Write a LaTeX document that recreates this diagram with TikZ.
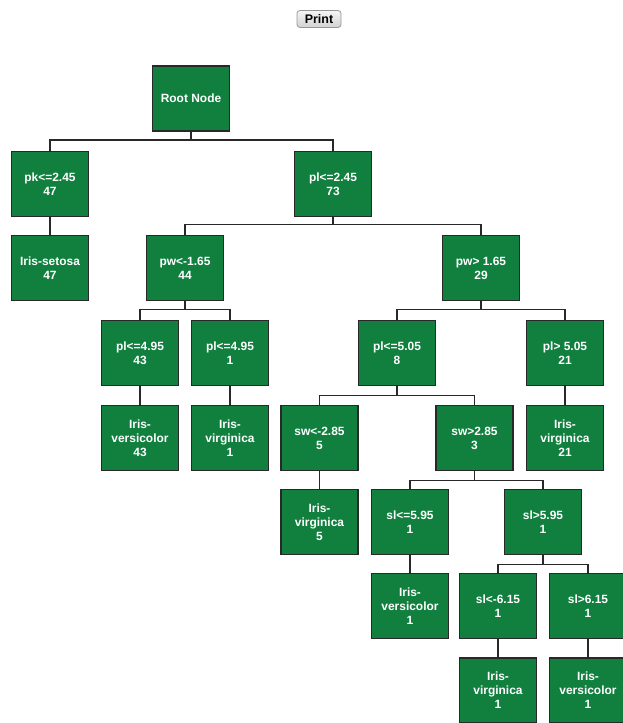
\documentclass[tikz,border=0pt]{standalone}
\usepackage{fontspec}
\setmainfont{Liberation Sans}
\begin{document}
\begin{tikzpicture}[x=1bp,y=-1bp,
  tbox/.style={rectangle, draw=boxline, line width=1.5bp, fill=treegreen,
    minimum width=77bp, minimum height=65bp, inner sep=1bp, align=center,
    text=white, font=\fontsize{12}{14}\selectfont\bfseries},
  conn/.style={draw=connline, line width=1.5bp},
  btn/.style={rectangle, rounded corners=3bp, draw=btnline, line width=0.8bp,
    top color=btntop, bottom color=btnbot, minimum width=44bp, minimum height=17bp,
    inner sep=0pt, font=\fontsize{12.5}{14}\selectfont\bfseries}]
\definecolor{treegreen}{RGB}{17,128,63}
\definecolor{boxline}{RGB}{40,40,40}
\definecolor{connline}{RGB}{40,40,40}
\definecolor{btnline}{RGB}{150,150,150}
\definecolor{btntop}{RGB}{245,245,245}
\definecolor{btnbot}{RGB}{210,210,210}
\useasboundingbox (0,0) rectangle (623,723);
\clip (0,0) rectangle (623,723);

\node[btn] (print) at (319,19) {Print};

\node[tbox] (root) at (191,98.5) {Root Node};
% level 1
\node[tbox] (pk) at (50,184) {pk<=2.45\\47};
\node[tbox] (plA) at (333,184) {pl<=2.45\\73};
% level 2
\node[tbox] (setosa) at (50,268) {Iris-setosa\\47};
\node[tbox] (pwA) at (185,268) {pw<-1.65\\44};
\node[tbox] (pwB) at (481,268) {pw> 1.65\\29};
% level 3
\node[tbox] (plC) at (140,353) {pl<=4.95\\43};
\node[tbox] (plD) at (230,353) {pl<=4.95\\1};
\node[tbox] (plE) at (397,353) {pl<=5.05\\8};
\node[tbox] (plF) at (565,353) {pl> 5.05\\21};
% level 4
\node[tbox] (vers43) at (140,438) {Iris-\\versicolor\\43};
\node[tbox] (virg1) at (230,438) {Iris-\\virginica\\1};
\node[tbox] (swA) at (319.5,438) {sw<-2.85\\5};
\node[tbox] (swB) at (474.5,438) {sw>2.85\\3};
\node[tbox] (virg21) at (565,438) {Iris-\\virginica\\21};
% level 5
\node[tbox] (virg5) at (319.5,522) {Iris-\\virginica\\5};
\node[tbox] (slA) at (410,522) {sl<=5.95\\1};
\node[tbox] (slB) at (543,522) {sl>5.95\\1};
% level 6
\node[tbox] (vers1) at (410,606) {Iris-\\versicolor\\1};
\node[tbox] (slC) at (498,606) {sl<-6.15\\1};
\node[tbox] (slD) at (588,606) {sl>6.15\\1};
% level 7
\node[tbox] (virgX) at (498,690.5) {Iris-\\virginica\\1};
\node[tbox] (versX) at (588,690.5) {Iris-\\versicolor\\1};

% connectors
\draw[conn] (root.south) -- ++(0,8) -| (pk.north);
\draw[conn] (root.south) -- ++(0,8) -| (plA.north);
\draw[conn] (pk.south) -- (setosa.north);
\draw[conn] (plA.south) -- ++(0,7) -| (pwA.north);
\draw[conn] (plA.south) -- ++(0,7) -| (pwB.north);
\draw[conn] (pwA.south) -- ++(0,8) -| (plC.north);
\draw[conn] (pwA.south) -- ++(0,8) -| (plD.north);
\draw[conn] (pwB.south) -- ++(0,8) -| (plE.north);
\draw[conn] (pwB.south) -- ++(0,8) -| (plF.north);
\draw[conn] (plC.south) -- (vers43.north);
\draw[conn] (plD.south) -- (virg1.north);
\draw[conn] (plE.south) -- ++(0,9) -| (swA.north);
\draw[conn] (plE.south) -- ++(0,9) -| (swB.north);
\draw[conn] (plF.south) -- (virg21.north);
\draw[conn] (swA.south) -- (virg5.north);
\draw[conn] (swB.south) -- ++(0,9) -| (slA.north);
\draw[conn] (swB.south) -- ++(0,9) -| (slB.north);
\draw[conn] (slA.south) -- (vers1.north);
\draw[conn] (slB.south) -- ++(0,9) -| (slC.north);
\draw[conn] (slB.south) -- ++(0,9) -| (slD.north);
\draw[conn] (slC.south) -- (virgX.north);
\draw[conn] (slD.south) -- (versX.north);
\end{tikzpicture}
\end{document}
